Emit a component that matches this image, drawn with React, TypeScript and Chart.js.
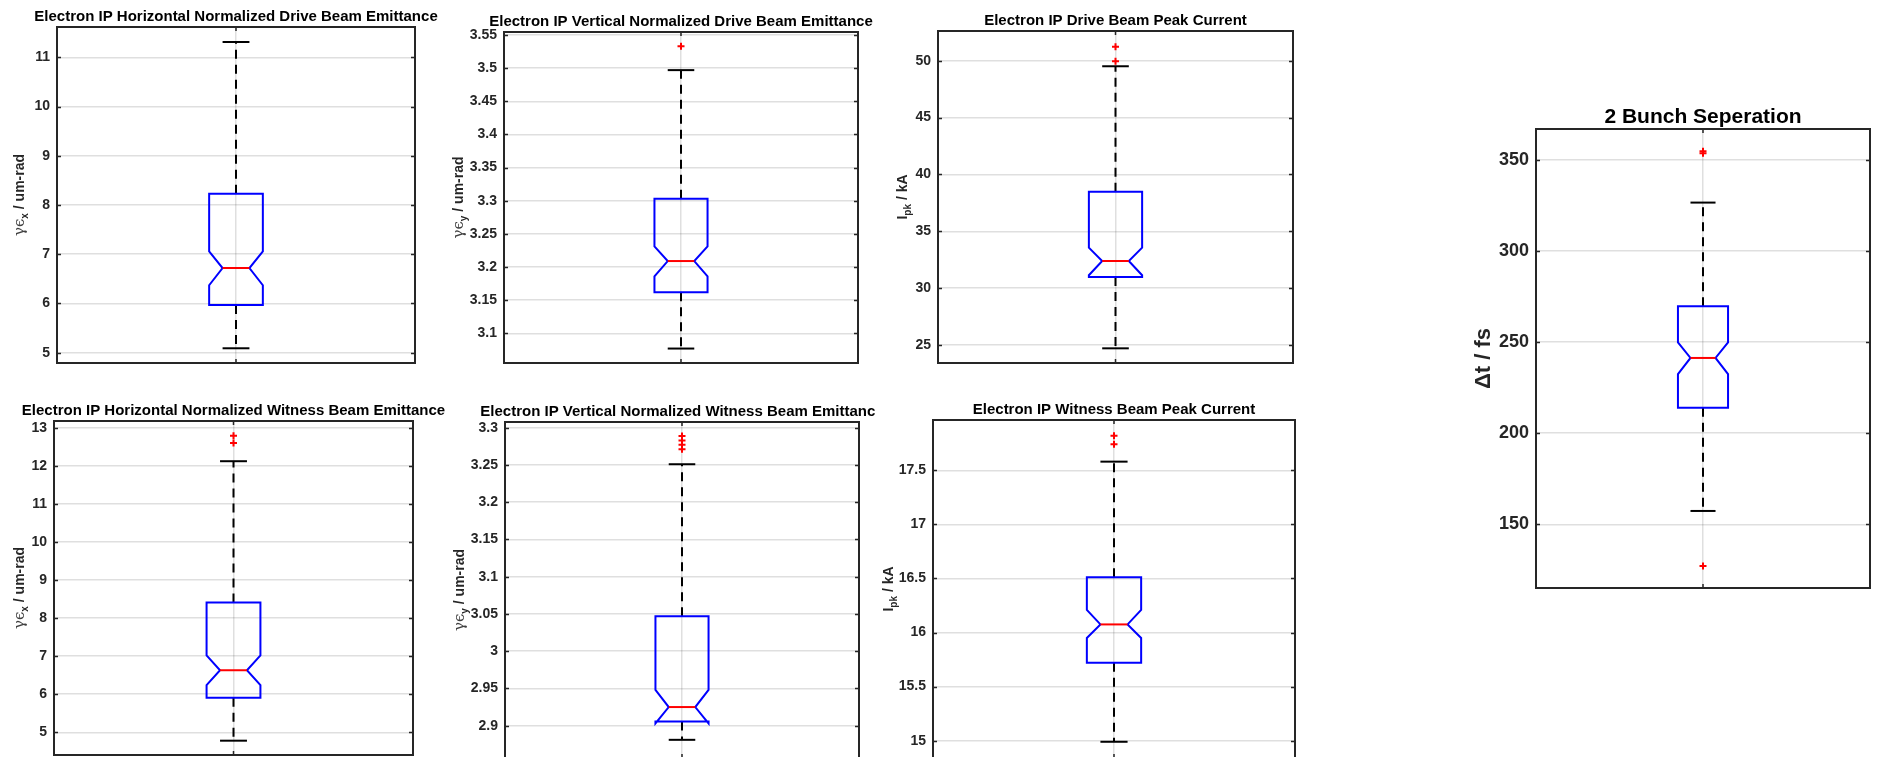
import React, { useEffect, useRef } from 'react';
import { Chart, registerables } from 'chart.js';

Chart.register(...registerables);

const SANS = '"Liberation Sans", Arial, Helvetica, sans-serif';
const GREEK = '"DejaVu Serif", serif';

// Box statistics order: [lower whisker, Q1, notch low, median, notch high, Q3, upper whisker]

// ---- Panel 1 ----
const p1Title = 'Electron IP Horizontal Normalized Drive Beam Emittance';
const p1TickLabels = ['5', '6', '7', '8', '9', '10', '11'];
const p1Range = [4.791, 11.615];
const p1Box = [5.09, 5.97, 6.37, 6.72, 7.06, 8.23, 11.31];
const p1Outliers: number[] = [];

// ---- Panel 2 ----
const p2Title = 'Electron IP Vertical Normalized Drive Beam Emittance';
const p2TickLabels = ['3.1', '3.15', '3.2', '3.25', '3.3', '3.35', '3.4', '3.45', '3.5', '3.55'];
const p2Range = [3.0552, 3.5545];
const p2Box = [3.077, 3.162, 3.186, 3.209, 3.231, 3.303, 3.497];
const p2Outliers = [3.533];

// ---- Panel 3 ----
const p3Title = 'Electron IP Drive Beam Peak Current';
const p3TickLabels = ['25', '30', '35', '40', '45', '50'];
const p3Range = [23.42, 52.61];
const p3Box = [24.71, 30.98, 31.14, 32.39, 33.56, 38.48, 49.51];
const p3Outliers = [49.95, 51.23];

// ---- Panel 4 ----
const p4Title = 'Electron IP Horizontal Normalized Witness Beam Emittance';
const p4TickLabels = ['5', '6', '7', '8', '9', '10', '11', '12', '13'];
const p4Range = [4.404, 13.176];
const p4Box = [4.78, 5.91, 6.24, 6.63, 7.02, 8.41, 12.12];
const p4Outliers = [12.6, 12.79];

// ---- Panel 5 ----
const p5Title = 'Electron IP Vertical Normalized Witness Beam Emittance';
const p5TickLabels = ['2.9', '2.95', '3', '3.05', '3.1', '3.15', '3.2', '3.25', '3.3'];
const p5Range = [2.8566, 3.3077];
const p5Box = [2.881, 2.9055, 2.903, 2.925, 2.948, 3.047, 3.251];
const p5Outliers = [3.271, 3.277, 3.283, 3.289];

// ---- Panel 6 ----
const p6Title = 'Electron IP Witness Beam Peak Current';
const p6TickLabels = ['15', '15.5', '16', '16.5', '17', '17.5'];
const p6Range = [14.84, 17.965];
const p6Box = [14.99, 15.72, 15.95, 16.075, 16.21, 16.51, 17.58];
const p6Outliers = [17.74, 17.82];

// ---- Panel 7 ----
const p7Title = '2 Bunch Seperation';
const p7TickLabels = ['150', '200', '250', '300', '350'];
const p7Range = [115.0, 367.0];
const p7Box = [157.3, 214.0, 232.4, 241.3, 249.9, 269.7, 326.6];
const p7Outliers = [127.1, 353.7, 354.8];

type Seg = { t: string; font: string; dy?: number; color?: string };

interface PanelSpec {
  key: string;
  title: string;
  titleSize: number;
  tickSize: number;
  ticks: string[];
  range: number[];
  box: number[];
  outliers: number[];
  label: Seg[];
  labelSize: number;
  labelX: number;
  canvas: number[]; // x, y, w, h
  area: number[]; // left, top, right, bottom (page coords)
}

const emitLabel = (sub: string): Seg[] => [
  { t: 'γϵ', font: `15px ${GREEK}`, color: '#404040' },
  { t: sub, font: `bold 10px ${SANS}`, dy: 4 },
  { t: ' / um-rad', font: `bold 14px ${SANS}` },
];
const currentLabel: Seg[] = [
  { t: 'I', font: `bold 14px ${SANS}` },
  { t: 'pk', font: `bold 10px ${SANS}`, dy: 4 },
  { t: ' / kA', font: `bold 14px ${SANS}` },
];
const timeLabel: Seg[] = [{ t: 'Δt / fs', font: `bold 22px ${SANS}` }];

const panels: PanelSpec[] = [
  { key: 'p1', title: p1Title, titleSize: 15, tickSize: 14, ticks: p1TickLabels, range: p1Range, box: p1Box, outliers: p1Outliers,
    label: emitLabel('x'), labelSize: 14, labelX: 18.5, canvas: [0, 0, 440, 380], area: [57, 27, 415, 363] },
  { key: 'p2', title: p2Title, titleSize: 15, tickSize: 14, ticks: p2TickLabels, range: p2Range, box: p2Box, outliers: p2Outliers,
    label: emitLabel('y'), labelSize: 14, labelX: 457.5, canvas: [440, 0, 440, 380], area: [504, 32, 858, 363] },
  { key: 'p3', title: p3Title, titleSize: 15, tickSize: 14, ticks: p3TickLabels, range: p3Range, box: p3Box, outliers: p3Outliers,
    label: currentLabel, labelSize: 14, labelX: 901.5, canvas: [880, 0, 440, 380], area: [938, 31, 1293, 363] },
  { key: 'p4', title: p4Title, titleSize: 15, tickSize: 14, ticks: p4TickLabels, range: p4Range, box: p4Box, outliers: p4Outliers,
    label: emitLabel('x'), labelSize: 14, labelX: 19, canvas: [0, 385, 447, 385], area: [54, 421, 413, 755] },
  { key: 'p5', title: p5Title, titleSize: 15, tickSize: 14, ticks: p5TickLabels, range: p5Range, box: p5Box, outliers: p5Outliers,
    label: emitLabel('y'), labelSize: 14, labelX: 459, canvas: [447, 385, 428, 385], area: [505, 422, 859, 758] },
  { key: 'p6', title: p6Title, titleSize: 15, tickSize: 14, ticks: p6TickLabels, range: p6Range, box: p6Box, outliers: p6Outliers,
    label: currentLabel, labelSize: 14, labelX: 888, canvas: [876, 385, 444, 385], area: [933, 420, 1295, 758] },
  { key: 'p7', title: p7Title, titleSize: 21, tickSize: 18, ticks: p7TickLabels, range: p7Range, box: p7Box, outliers: p7Outliers,
    label: timeLabel, labelSize: 22, labelX: 1482, canvas: [1440, 80, 439, 560], area: [1536, 129, 1870, 588] },
];

const GRID = 'rgba(38,38,38,0.15)';
const AXIS = '#262626';

function BoxPanel({ p }: { p: PanelSpec }) {
  const ref = useRef<HTMLCanvasElement | null>(null);
  const [cx, cy, cw, ch] = p.canvas;

  useEffect(() => {
    const canvas = ref.current;
    if (!canvas) return;
    const [al, at, ar, ab] = p.area;
    const tickValues = p.ticks.map(Number);
    const [wLo, q1, nLo, med, nHi, q3, wHi] = p.box;
    const X = 1;
    const BW = 0.075;
    const NW = 0.0375;

    const outline = [
      { x: X, y: q3 }, { x: X + BW, y: q3 }, { x: X + BW, y: nHi }, { x: X + NW, y: med },
      { x: X + BW, y: nLo }, { x: X + BW, y: q1 }, { x: X - BW, y: q1 }, { x: X - BW, y: nLo },
      { x: X - NW, y: med }, { x: X - BW, y: nHi }, { x: X - BW, y: q3 }, { x: X, y: q3 },
    ];

    const line = (data: { x: number; y: number }[], color: string, dash: number[] = []) => ({
      data,
      showLine: true,
      borderColor: color,
      borderWidth: 2,
      borderDash: dash,
      borderJoinStyle: 'miter' as const,
      pointRadius: 0,
      tension: 0,
      fill: false,
    });

    const deco = {
      id: 'deco_' + p.key,
      afterDraw(chart: any) {
        const ctx = chart.ctx as CanvasRenderingContext2D;
        const ca = chart.chartArea;
        const ys = chart.scales.y;
        const xs = chart.scales.x;
        ctx.save();
        // inward tick marks
        ctx.strokeStyle = AXIS;
        ctx.lineWidth = 1.5;
        ctx.beginPath();
        ys.ticks.forEach((t: any) => {
          const py = Math.round(ys.getPixelForValue(t.value)) + 0.5;
          ctx.moveTo(ca.left, py); ctx.lineTo(ca.left + 4, py);
          ctx.moveTo(ca.right, py); ctx.lineTo(ca.right - 4, py);
        });
        const px = xs.getPixelForValue(1);
        ctx.moveTo(px, ca.top); ctx.lineTo(px, ca.top + 4);
        ctx.moveTo(px, ca.bottom); ctx.lineTo(px, ca.bottom - 4);
        ctx.stroke();
        // frame
        ctx.lineWidth = 2;
        ctx.strokeRect(ca.left, ca.top, ca.right - ca.left, ca.bottom - ca.top);
        // title
        ctx.fillStyle = '#000';
        ctx.font = `bold ${p.titleSize}px ${SANS}`;
        ctx.textAlign = 'center';
        ctx.textBaseline = 'alphabetic';
        ctx.fillText(p.title, (ca.left + ca.right) / 2, ca.top - 6);
        // y label (rotated, with subscripts)
        const lx = p.labelX - cx;
        const ly = (ca.top + ca.bottom) / 2;
        ctx.translate(lx, ly);
        ctx.rotate(-Math.PI / 2);
        ctx.textAlign = 'left';
        let total = 0;
        p.label.forEach((s) => { ctx.font = s.font; total += ctx.measureText(s.t).width; });
        let x = -total / 2;
        const base = 0.36 * p.labelSize;
        p.label.forEach((s) => {
          ctx.font = s.font;
          ctx.fillStyle = s.color || AXIS;
          ctx.fillText(s.t, x, base + (s.dy || 0));
          x += ctx.measureText(s.t).width;
        });
        ctx.restore();
      },
    };

    const chart = new Chart(canvas, {
      type: 'scatter',
      data: {
        datasets: [
          line([{ x: X - NW, y: med }, { x: X + NW, y: med }], '#ff0000'),
          line(outline, '#0000ff'),
          line([{ x: X - NW, y: wHi }, { x: X + NW, y: wHi }], '#000000'),
          line([{ x: X - NW, y: wLo }, { x: X + NW, y: wLo }], '#000000'),
          line([{ x: X, y: q3 }, { x: X, y: wHi }], '#000000', [9, 6]),
          line([{ x: X, y: q1 }, { x: X, y: wLo }], '#000000', [9, 6]),
          {
            data: p.outliers.map((v) => ({ x: X, y: v })),
            showLine: false,
            pointStyle: 'cross',
            pointRadius: 3.5,
            pointBorderWidth: 2,
            pointBorderColor: '#ff0000',
            pointBackgroundColor: '#ff0000',
          },
        ] as any,
      },
      options: {
        responsive: false,
        animation: false,
        devicePixelRatio: 1,
        events: [],
        layout: { padding: { left: 0, top: at - cy, right: cx + cw - ar, bottom: cy + ch - ab } },
        plugins: { legend: { display: false }, tooltip: { enabled: false }, title: { display: false } },
        scales: {
          x: {
            type: 'linear',
            min: 0.5,
            max: 1.5,
            bounds: 'data',
            afterBuildTicks: (s: any) => { s.ticks = [{ value: 1 }]; },
            afterFit: (s: any) => { s.height = 0; s.paddingLeft = 0; s.paddingRight = 0; },
            ticks: { display: false },
            grid: { color: GRID, lineWidth: 1.5, drawTicks: false },
            border: { display: false },
          },
          y: {
            type: 'linear',
            min: p.range[0],
            max: p.range[1],
            bounds: 'data',
            afterBuildTicks: (s: any) => { s.ticks = tickValues.map((v) => ({ value: v })); },
            afterFit: (s: any) => { s.width = al - cx; s.paddingTop = 0; s.paddingBottom = 0; },
            ticks: {
              autoSkip: false,
              padding: 7,
              color: AXIS,
              font: { family: SANS, size: p.tickSize, weight: 'bold' },
              callback: (_v: any, i: number) => p.ticks[i],
            },
            grid: { color: GRID, lineWidth: 1.5, drawTicks: false },
            border: { display: false },
          },
        } as any,
      },
      plugins: [deco],
    });
    return () => chart.destroy();
  }, [p]);

  return (
    <canvas
      ref={ref}
      width={cw}
      height={ch}
      style={{ position: 'absolute', left: cx, top: cy, width: cw, height: ch, display: 'block' }}
    />
  );
}

export default function App() {
  return (
    <div
      style={{
        position: 'absolute',
        left: 0,
        top: 0,
        width: 1879,
        height: 757,
        overflow: 'hidden',
        background: '#ffffff',
      }}
    >
      {panels.map((p) => (
        <BoxPanel key={p.key} p={p} />
      ))}
    </div>
  );
}
